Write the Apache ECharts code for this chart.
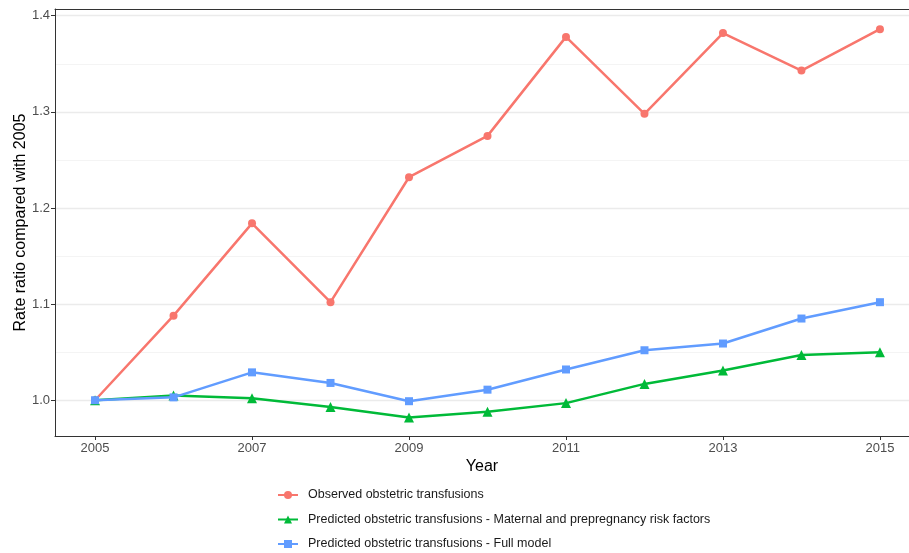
<!DOCTYPE html>
<html>
<head>
<meta charset="utf-8">
<script src="https://cdn.jsdelivr.net/npm/echarts@6/dist/echarts.min.js"></script>
<style>
  html, body { margin: 0; padding: 0; background: #fff; }
  #chart { width: 909px; height: 553px; }
</style>
</head>
<body>
<div id="chart"></div>
<script>
// years and series values
var years = [2005, 2006, 2007, 2008, 2009, 2010, 2011, 2012, 2013, 2014, 2015];
var observed = [1.000, 1.088, 1.184, 1.102, 1.232, 1.275, 1.378, 1.298, 1.382, 1.343, 1.386];
var predMaternal = [1.000, 1.005, 1.002, 0.993, 0.982, 0.988, 0.997, 1.017, 1.031, 1.047, 1.050];
var predFull = [1.000, 1.003, 1.029, 1.018, 0.999, 1.011, 1.032, 1.052, 1.059, 1.085, 1.102];

var xTicks = [2005, 2007, 2009, 2011, 2013, 2015];
var yTicks = [1.0, 1.1, 1.2, 1.3, 1.4];
var yMinor = [1.05, 1.15, 1.25, 1.35];

var names = [
  'Observed obstetric transfusions',
  'Predicted obstetric transfusions - Maternal and prepregnancy risk factors',
  'Predicted obstetric transfusions - Full model'
];

function pairs(vals) {
  return years.map(function (y, i) { return [y, vals[i]]; });
}

var font = 'Liberation Sans, Arial, sans-serif';
var xMin = 2004.49, xMax = 2015.37;
var yMin = 0.9628, yMax = 1.407;

var chart = echarts.init(document.getElementById('chart'));
chart.setOption({
  animation: false,
  textStyle: { fontFamily: font },
  grid: { left: 55, right: 0, top: 9, bottom: 117, containLabel: false, outerBoundsMode: 'none' },
  xAxis: [
    {
      type: 'value', min: xMin, max: xMax,
      name: 'Year', nameLocation: 'middle', nameGap: 23, nameMoveOverlap: false,
      nameTextStyle: { fontSize: 16, color: '#000', fontFamily: font },
      axisLine: { show: true, lineStyle: { color: '#333', width: 1 } },
      axisTick: { show: true, length: 4, customValues: xTicks, lineStyle: { color: '#333' } },
      axisLabel: { customValues: xTicks, fontSize: 13, color: '#4d4d4d', margin: 6, formatter: function (v) { return String(v); } },
      splitLine: { show: false }
    },
    {
      type: 'value', min: xMin, max: xMax, position: 'top',
      axisLine: { show: true, onZero: false, lineStyle: { color: '#333', width: 1 } },
      axisTick: { show: false }, axisLabel: { show: false }, splitLine: { show: false }
    }
  ],
  yAxis: [
    {
      type: 'value', min: yMin, max: yMax,
      name: 'Rate ratio compared with 2005', nameLocation: 'middle', nameGap: 26, nameMoveOverlap: false,
      nameTextStyle: { fontSize: 16, color: '#000', fontFamily: font },
      axisLine: { show: true, lineStyle: { color: '#333', width: 1 } },
      axisTick: { show: true, length: 4, customValues: yTicks, lineStyle: { color: '#333' } },
      axisLabel: { customValues: yTicks, fontSize: 13, color: '#4d4d4d', margin: 5, formatter: function (v) { return v.toFixed(1); } },
      splitLine: { show: true, lineStyle: { color: '#ebebeb', width: 1.3 } }
    },
    {
      type: 'value', min: yMin, max: yMax, position: 'left',
      axisLine: { show: false },
      axisTick: { show: false, customValues: yMinor },
      axisLabel: { show: false, customValues: yMinor },
      splitLine: { show: true, lineStyle: { color: '#f4f4f4', width: 1 } }
    }
  ],
  legend: {
    orient: 'vertical', left: 277, top: 488.5, height: 70, padding: 0,
    itemWidth: 20, itemHeight: 10, itemGap: 11.5,
    textStyle: { fontSize: 12.5, color: '#1a1a1a', fontFamily: font, padding: [0, 0, 0, 5] },
    data: names
  },
  series: [
    {
      name: names[0], type: 'line', data: pairs(observed),
      symbol: 'circle', symbolSize: 8,
      itemStyle: { color: '#F8766D' }, lineStyle: { width: 2.5, color: '#F8766D' }, z: 3
    },
    {
      name: names[1], type: 'line', data: pairs(predMaternal),
      symbol: 'triangle', symbolSize: 10,
      itemStyle: { color: '#00BA38' }, lineStyle: { width: 2.5, color: '#00BA38' }, z: 4
    },
    {
      name: names[2], type: 'line', data: pairs(predFull),
      symbol: 'rect', symbolSize: 8,
      itemStyle: { color: '#619CFF' }, lineStyle: { width: 2.5, color: '#619CFF' }, z: 5
    }
  ]
});
</script>
</body>
</html>
